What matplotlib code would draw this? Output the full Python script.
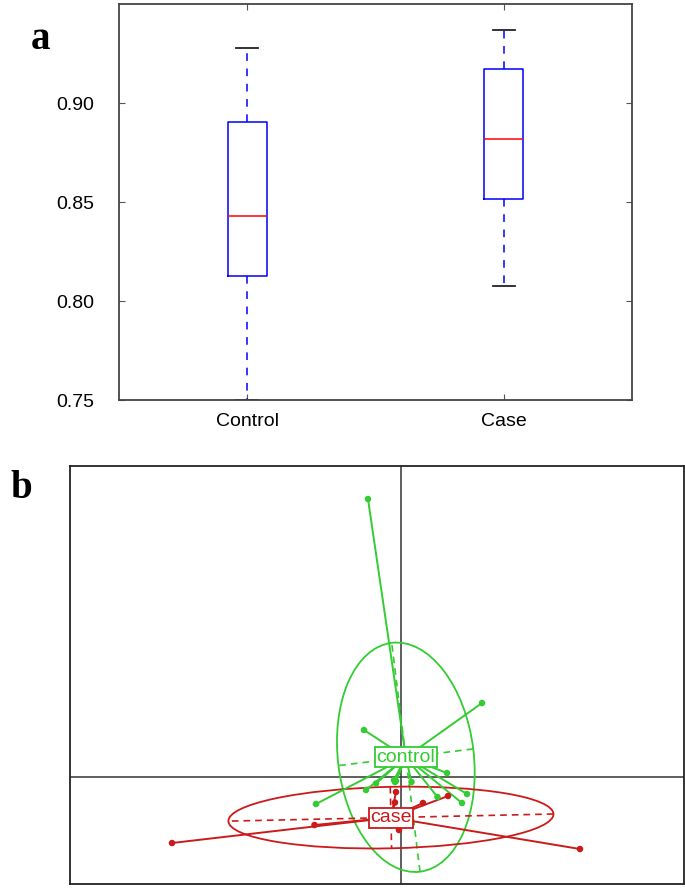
import numpy as np
import matplotlib
matplotlib.use("Agg")
import matplotlib.pyplot as plt
from matplotlib.patches import Ellipse

plt.rcParams['font.family'] = ['Liberation Sans', 'DejaVu Sans']

# panel a: box plot summary values
groups = ["Control", "Case"]
q1 = [0.8125, 0.8515]
med = [0.8428, 0.8817]
q3 = [0.8906, 0.9172]
lo = [0.750, 0.8077]
hi = [0.9279, 0.937]
yticks = [0.75, 0.80, 0.85, 0.90]

# panel b: ordination scores per group
ctrl_x = [-0.033, 0.081, -0.037, -0.085, -0.035, -0.025, -0.006, -0.007,
          -0.005, 0.0105, 0.046, 0.0365, 0.061, 0.066]
ctrl_y = [0.278, 0.074, 0.047, -0.027, -0.013, -0.0065, -0.005, -0.003,
          -0.004, -0.005, 0.004, -0.020, -0.026, -0.017]
case_x = [-0.229, -0.0865, -0.005, -0.006, -0.002, 0.022, 0.047, 0.179]
case_y = [-0.066, -0.048, -0.015, -0.0255, -0.053, -0.026, -0.019, -0.072]

fig = plt.figure(figsize=(6.85, 8.88), dpi=100)

# ---- a ----
ax = fig.add_axes([0.1737, 0.5495, 0.749, 0.446])
stats = []
for i in range(2):
    stats.append(dict(med=med[i], q1=q1[i], q3=q3[i], whislo=lo[i], whishi=hi[i], fliers=[]))
ax.bxp(stats, positions=[1, 2], widths=0.152, capwidths=0.086, showfliers=False,
       boxprops=dict(color='blue', lw=1.1),
       medianprops=dict(color='red', lw=1.1),
       whiskerprops=dict(color='blue', lw=1.1, linestyle=(0, (5, 5))),
       capprops=dict(color='#222222', lw=1.3))
ax.set_xlim(0.5, 2.5)
ax.set_ylim(0.75, 0.95)
ax.set_yticks(yticks)
ax.set_yticklabels(["%.2f" % t for t in yticks])
ax.set_xticks([1, 2])
ax.set_xticklabels(groups)
ax.tick_params(direction='in', top=True, right=True, labelsize=14, length=4,
               color='#555555')
ax.tick_params(axis='y', pad=18)
ax.tick_params(axis='x', pad=9)
for s in ax.spines.values():
    s.set_color('#444444')
    s.set_linewidth(1.3)
fig.text(0.045, 0.955, "a", family='Liberation Serif', weight='bold', fontsize=28,
         va='center')

# ---- b ----
bx = fig.add_axes([0.1022, 0.0045, 0.8963, 0.4707])
bx.set_xlim(-0.331, 0.283)
bx.set_ylim(-0.107, 0.311)
bx.set_xticks([])
bx.set_yticks([])
for s in bx.spines.values():
    s.set_color('#222222')
    s.set_linewidth(1.3)
bx.axhline(0, color='#333333', lw=1.1, zorder=1)
bx.axvline(0, color='#333333', lw=1.1, zorder=1)


def s_class(xs, ys, col, label):
    xs = np.array(xs)
    ys = np.array(ys)
    cx, cy = xs.mean(), ys.mean()
    cov = np.cov(np.vstack([xs, ys]), bias=True)
    vals, vecs = np.linalg.eigh(cov)
    a_small, a_big = 1.5 * np.sqrt(vals)
    v_small, v_big = vecs[:, 0], vecs[:, 1]
    ang = np.degrees(np.arctan2(v_big[1], v_big[0]))
    bx.add_patch(Ellipse((cx, cy), 2 * a_big, 2 * a_small, angle=ang,
                         fill=False, ec=col, lw=1.3, zorder=3))
    for r, v in [(a_big, v_big), (a_small, v_small)]:
        bx.plot([cx - r * v[0], cx + r * v[0]], [cy - r * v[1], cy + r * v[1]],
                color=col, lw=1.2, linestyle=(0, (4, 3)), zorder=3)
    for x, y in zip(xs, ys):
        bx.plot([cx, x], [cy, y], color=col, lw=1.4, zorder=4)
    bx.scatter(xs, ys, s=22, color=col, zorder=5, edgecolors='none')
    bx.text(cx, cy, label, color=col, fontsize=14, ha='center', va='center', zorder=6,
            bbox=dict(boxstyle='square,pad=0.08', fc='white', ec=col, lw=1.3))


s_class(ctrl_x, ctrl_y, '#33CC33', 'control')
s_class(case_x, case_y, '#CC1A1A', 'case')

fig.text(0.015, 0.45, "b", family='Liberation Serif', weight='bold', fontsize=28,
         va='center')

fig.savefig("out.png", dpi=100)
